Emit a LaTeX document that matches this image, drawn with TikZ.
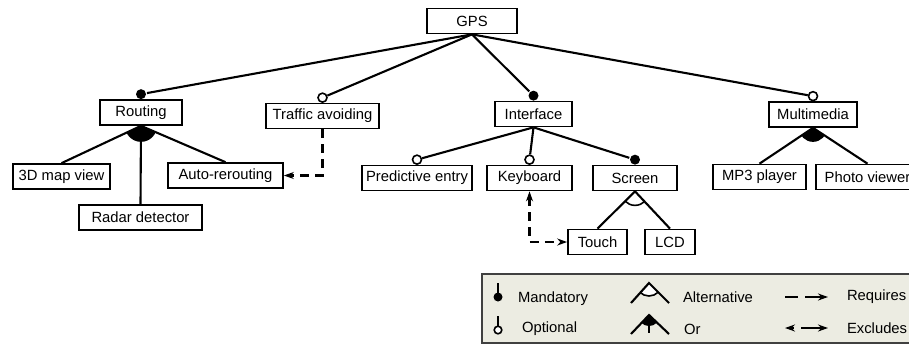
\documentclass[tikz,border=0pt]{standalone}
\usepackage{fontspec}
\setmainfont{Liberation Sans}
\usetikzlibrary{arrows.meta,positioning,calc}
\definecolor{legendbg}{HTML}{ECECE2}
\tikzset{
      feat/.style = {draw, fill=white, minimum height=25pt, inner sep=2pt,
                     line width=1.7pt, font=\fontsize{14.8}{16}\selectfont},
      mand/.style = {circle, fill=black, inner sep=0pt, minimum size=10pt},
       opt/.style = {circle, draw, fill=white, inner sep=0pt, minimum size=9pt,
                     line width=1.6pt},
    dashln/.style = {dash pattern=on 9pt off 6pt},
       lbl/.style = {anchor=west, inner sep=0pt, font=\fontsize{14.8}{16}\selectfont},
        }

\begin{document}
\begin{tikzpicture}[x=1pt,y=-1pt,line width=2.1pt,
    >={Stealth[length=10pt,width=7pt]}]
\useasboundingbox (0,0) rectangle (909,346);
% features
\node[feat,minimum width=90pt]  (gps)        at (472,21)    {GPS};
\node[feat,minimum width=82pt]  (routing)    at (141,112.5) {Routing};
\node[feat,minimum width=113pt] (traffic)    at (322.5,116) {Traffic avoiding};
\node[feat,minimum width=77pt]  (interface)  at (533.5,114) {Interface};
\node[feat,minimum width=88pt]  (multimedia) at (813,114.5) {Multimedia};
\node[feat,minimum width=97pt]  (map3d)      at (61.5,176.5){3D map view};
\node[feat,minimum width=123pt] (radar)      at (140.5,217.5){Radar detector};
\node[feat,minimum width=115pt] (autoroute)  at (225.5,175.5){Auto-rerouting};
\node[feat,minimum width=110pt] (predictive) at (417,178)   {Predictive entry};
\node[feat,minimum width=85pt]  (keyboard)   at (529.5,178) {Keyboard};
\node[feat,minimum width=84pt]  (screen)     at (635,178)   {Screen};
\node[feat,minimum width=59pt]  (touch)      at (597.5,242) {Touch};
\node[feat,minimum width=50pt]  (lcd)        at (670,242)   {LCD};
\node[feat,minimum width=93pt]  (mp3)        at (759.5,177) {MP3 player};
\node[feat,minimum width=103pt] (photo)      at (867.5,177) {Photo viewer};

% mandatory / optional ends
\node[mand] (dRouting)    at ([yshift=5pt]routing.north)    {};
\node[opt]  (dTraffic)    at ([yshift=5pt]traffic.north)    {};
\node[mand] (dInterface)  at ([yshift=5pt]interface.north)  {};
\node[opt]  (dMultimedia) at ([yshift=5pt]multimedia.north) {};
\node[opt]  (dPredictive) at ([yshift=5pt]predictive.north) {};
\node[opt]  (dKeyboard)   at ([yshift=5pt]keyboard.north)   {};
\node[mand] (dScreen)     at ([yshift=5pt]screen.north)     {};

\foreach \d in {dRouting,dTraffic,dInterface,dMultimedia}
  \draw (gps.south) -- (\d);
\foreach \d in {dPredictive,dKeyboard,dScreen}
  \draw (interface.south) -- (\d);

% or groups
\begin{scope}
  \clip (routing.south) -- (map3d.north) -- (autoroute.north) -- cycle;
  \fill (routing.south) circle (16pt);
\end{scope}
\foreach \c in {map3d,radar,autoroute}
  \draw (routing.south) -- (\c.north);
\begin{scope}
  \clip (multimedia.south) -- (mp3.north) -- (photo.north) -- cycle;
  \fill (multimedia.south) circle (14pt);
\end{scope}
\foreach \c in {mp3,photo}
  \draw (multimedia.south) -- (\c.north);

% alternative group
\begin{scope}
  \clip (screen.south) -- (touch.north) -- (lcd.north) -- cycle;
  \draw[line width=1.6pt] (screen.south) circle (14pt);
\end{scope}
\foreach \c in {touch,lcd}
  \draw (screen.south) -- (\c.north);

% cross-tree constraints
\draw[dashln,->] (traffic.south) |- (autoroute.east);
\draw[dashln,<->] (keyboard.south) |- (touch.west);

% legend
\draw[draw=black!75,line width=1.6pt,fill=legendbg] (482,274) rectangle (915,343);
\draw (498,283) -- (498,296);
\fill (498,297) circle (4.5pt);
\draw (498,316) -- (498,326);
\draw[line width=1.6pt,fill=white] (498,330) circle (3.8pt);
\node[lbl] (lMandatory) at (517,299) {Mandatory};
\node[lbl] (lOptional)  at (521,329) {Optional};

\begin{scope}
  \clip (649,283) -- (631,303) -- (669,303) -- cycle;
  \draw[line width=1.6pt,fill=white] (649,283) circle (13pt);
\end{scope}
\draw (631,303) -- (649,283) -- (669,303);
\begin{scope}
  \clip (649,315) -- (631,334) -- (669,334) -- cycle;
  \fill (649,315) circle (11pt);
\end{scope}
\draw (631,334) -- (649,315) -- (669,334);
\draw (649,315) -- (649,333);
\node[lbl] (lAlternative) at (682,297) {Alternative};
\node[lbl] (lOr)          at (683,329) {Or};

\draw[dash pattern=on 13pt off 7pt on 30pt off 1pt,->] (785,297) -- (828,297);
\draw[dash pattern=on 3pt off 7pt on 30pt off 1pt,<->] (785,328) -- (828,328);
\node[lbl] (lRequires) at (846,297) {Requires};
\node[lbl] (lExcludes) at (846,328) {Excludes};
\end{tikzpicture}
\end{document}
